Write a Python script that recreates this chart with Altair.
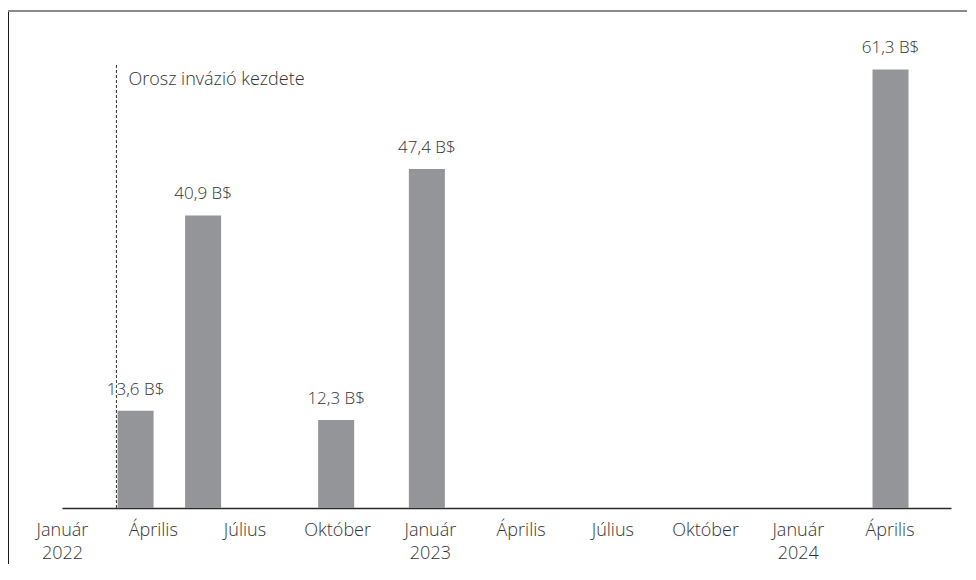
import altair as alt
import pandas as pd

# ---- data ----
bar_dates = ["2022-03-15", "2022-05-21", "2022-09-30", "2022-12-29", "2024-04-02"]
bar_values = [13.6, 40.9, 12.3, 47.4, 61.3]
bar_labels = ["13,6 B$", "40,9 B$", "12,3 B$", "47,4 B$", "61,3 B$"]

tick_dates = ["2022-01-01", "2022-04-01", "2022-07-01", "2022-10-01", "2023-01-01",
              "2023-04-01", "2023-07-01", "2023-10-01", "2024-01-01", "2024-04-01"]
tick_line1 = ["Január", "Április", "Július", "Október", "Január",
              "Április", "Július", "Október", "Január", "Április"]
tick_line2 = ["2022", "", "", "", "2023", "", "", "", "2024", ""]

event_date = ["2022-02-24"]
event_label = ["Orosz invázió kezdete"]
event_line_top = [62]
event_label_y = [59.1]

x_domain = ["2022-01-01", "2024-06-01"]
y_domain = [0, 65]

# ---- style ----
FONT = "Open Sans"
TEXT_COLOR = "#333333"
BAR_COLOR = "#939598"
WEIGHT = 300


def dt(s):
    y, m, d = (int(p) for p in s.split("-"))
    return alt.DateTime(year=y, month=m, date=d, utc=True)


expr = "''"
for d, l1, l2 in reversed(list(zip(tick_dates, tick_line1, tick_line2))):
    lab = f"['{l1}', '{l2}']" if l2 else f"'{l1}'"
    expr = f"utcFormat(datum.value, '%Y-%m-%d') == '{d}' ? {lab} : ({expr})"

bars_df = pd.DataFrame({"date": bar_dates, "value": bar_values, "label": bar_labels})
event_df = pd.DataFrame({"date": event_date, "label": event_label,
                         "y0": [0], "y1": event_line_top, "ly": event_label_y})

x_scale = alt.Scale(type="utc", domain=[dt(s) for s in x_domain], padding=0)
y_scale = alt.Scale(domain=y_domain, nice=False, zero=True, padding=0)

x_axis = alt.Axis(
    values=[dt(s) for s in tick_dates],
    labelExpr=expr,
    ticks=False,
    grid=False,
    domainColor="#2b2b2b",
    domainWidth=1.5,
    labelFont=FONT,
    labelFontSize=18,
    labelFontWeight=WEIGHT,
    labelColor=TEXT_COLOR,
    labelPadding=13,
    labelLineHeight=23,
    labelFlush=False,
    labelOverlap=False,
    title=None,
)

base = alt.Chart(bars_df)

bars = base.mark_bar(size=36, color=BAR_COLOR).encode(
    x=alt.X("date:T", scale=x_scale, axis=x_axis),
    y=alt.Y("value:Q", scale=y_scale, axis=None),
)

value_text = base.mark_text(
    font=FONT, fontSize=17, fontWeight=WEIGHT, color=TEXT_COLOR,
    baseline="alphabetic", dy=-16,
).encode(
    x=alt.X("date:T", scale=x_scale),
    y=alt.Y("value:Q", scale=y_scale),
    text="label:N",
)

event_rule = alt.Chart(event_df).mark_rule(
    color="#333333", strokeWidth=1, strokeDash=[3, 2]
).encode(
    x=alt.X("date:T", scale=x_scale),
    y=alt.Y("y0:Q", scale=y_scale),
    y2="y1:Q",
)

event_text = alt.Chart(event_df).mark_text(
    font=FONT, fontSize=18, fontWeight=WEIGHT, color=TEXT_COLOR,
    align="left", baseline="alphabetic", dx=12,
).encode(
    x=alt.X("date:T", scale=x_scale),
    y=alt.Y("ly:Q", scale=y_scale),
    text="label:N",
)

frame_left = alt.Chart(bars_df).mark_rule(color="#1a1a1a", strokeWidth=1).encode(
    x=alt.value(-53.5), y=alt.value(-32), y2=alt.value(521)
)
frame_top = alt.Chart(bars_df).mark_rule(color="#8a8a8a", strokeWidth=2).encode(
    x=alt.value(-54), x2=alt.value(905), y=alt.value(-32)
)

chart = alt.layer(
    frame_left, frame_top, bars, value_text, event_rule, event_text
).properties(
    width=889,
    height=465,
    autosize=alt.AutoSizeParams(type="none"),
    padding={"left": 54, "top": 35, "right": 16, "bottom": 56},
).configure_view(stroke=None)

chart.save("out.html", embed_options={"renderer": "svg", "actions": False})
